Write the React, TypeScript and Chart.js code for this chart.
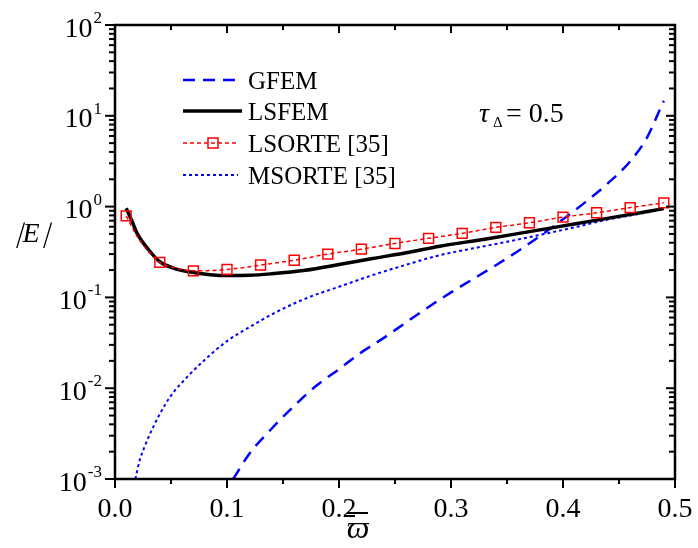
import React, { useEffect, useRef } from 'react';
import { Chart, registerables } from 'chart.js';

Chart.register(...registerables);

// ---- data ----
const gfemX = [0.1055, 0.12, 0.14, 0.16, 0.18, 0.2, 0.22, 0.24, 0.26, 0.28, 0.3, 0.32, 0.34, 0.36, 0.38, 0.4, 0.42, 0.44, 0.46, 0.475, 0.488, 0.49];
const gfemY = [0.001, 0.0019, 0.0036, 0.0064, 0.0107, 0.0162, 0.0248, 0.0358, 0.0531, 0.0785, 0.1135, 0.16, 0.226, 0.324, 0.479, 0.724, 1.12, 1.8, 3.16, 5.76, 12.9, 14.6];

const lsfemX = [0.01, 0.015, 0.02, 0.03, 0.04, 0.055, 0.07, 0.085, 0.1, 0.12, 0.14, 0.17, 0.2, 0.23, 0.26, 0.29, 0.33, 0.37, 0.41, 0.45, 0.49];
const lsfemY = [0.96, 0.7, 0.5, 0.335, 0.247, 0.205, 0.188, 0.178, 0.174, 0.175, 0.182, 0.199, 0.23, 0.268, 0.31, 0.366, 0.437, 0.53, 0.643, 0.78, 0.95];

const lsorteX = [0.01, 0.02, 0.03, 0.04, 0.055, 0.07, 0.1, 0.13, 0.16, 0.19, 0.22, 0.25, 0.28, 0.31, 0.34, 0.37, 0.4, 0.43, 0.46, 0.49];
const lsorteY = [0.79, 0.465, 0.318, 0.243, 0.209, 0.196, 0.203, 0.227, 0.257, 0.3, 0.34, 0.393, 0.447, 0.507, 0.59, 0.663, 0.765, 0.855, 0.975, 1.1];
const lsorteMarkerX = [0.01, 0.04, 0.07, 0.1, 0.13, 0.16, 0.19, 0.22, 0.25, 0.28, 0.31, 0.34, 0.37, 0.4, 0.43, 0.46, 0.49];

const msorteX = [0.0182, 0.022, 0.026, 0.03, 0.04, 0.05, 0.066, 0.08, 0.1, 0.12, 0.14, 0.17, 0.2, 0.23, 0.26, 0.29, 0.32, 0.35, 0.38, 0.41, 0.44, 0.47, 0.49];
const msorteY = [0.001, 0.0016, 0.0022, 0.0029, 0.0052, 0.0083, 0.0139, 0.0205, 0.033, 0.047, 0.065, 0.097, 0.131, 0.176, 0.229, 0.292, 0.347, 0.41, 0.49, 0.59, 0.72, 0.84, 0.95];

const seriesNames = ['GFEM', 'LSFEM', 'LSORTE [35]', 'MSORTE [35]'];
const xTickValues = [0, 0.1, 0.2, 0.3, 0.4, 0.5];
const xTickLabels = ['0.0', '0.1', '0.2', '0.3', '0.4', '0.5'];
const xMinorValues = [0.05, 0.15, 0.25, 0.35, 0.45];
const yExponents = [-3, -2, -1, 0, 1, 2];

const SERIF = '"Liberation Serif", "Times New Roman", "DejaVu Serif", serif';
const BLUE = '#0000ff';
const RED = '#ff0000';

const zip = (xs: number[], ys: number[]) => xs.map((x, i) => ({ x, y: ys[i] }));

const decorPlugin = {
  id: 'decor',
  afterDraw(chart: any) {
    const ctx: CanvasRenderingContext2D = chart.ctx;
    const xs = chart.scales.x;
    const ys = chart.scales.y;
    const { left, right, top, bottom } = chart.chartArea;
    ctx.save();
    ctx.strokeStyle = '#000';
    ctx.fillStyle = '#000';
    ctx.lineCap = 'butt';

    // frame
    ctx.lineWidth = 2.5;
    ctx.strokeRect(left, top, right - left, bottom - top);

    ctx.lineWidth = 2;
    const vline = (x: number, y0: number, y1: number) => {
      ctx.beginPath();
      ctx.moveTo(x, y0);
      ctx.lineTo(x, y1);
      ctx.stroke();
    };
    const hline = (y: number, x0: number, x1: number) => {
      ctx.beginPath();
      ctx.moveTo(x0, y);
      ctx.lineTo(x1, y);
      ctx.stroke();
    };
    // x ticks
    xTickValues.forEach((v) => {
      const px = xs.getPixelForValue(v);
      vline(px, bottom, bottom + 9);
      vline(px, top, top + 8);
    });
    xMinorValues.forEach((v) => {
      const px = xs.getPixelForValue(v);
      vline(px, bottom, bottom + 5);
      vline(px, top, top + 5);
    });
    // y ticks
    yExponents.forEach((e) => {
      const py = ys.getPixelForValue(Math.pow(10, e));
      hline(py, left - 10, left);
      hline(py, right - 9, right);
      if (e < 2) {
        for (let m = 2; m <= 9; m++) {
          const pm = ys.getPixelForValue(m * Math.pow(10, e));
          hline(pm, left - 6, left);
          hline(pm, right - 6, right);
        }
      }
    });

    // x tick labels
    ctx.font = `28px ${SERIF}`;
    ctx.textAlign = 'center';
    ctx.textBaseline = 'alphabetic';
    xTickValues.forEach((v, i) => {
      ctx.fillText(xTickLabels[i], xs.getPixelForValue(v), 517);
    });

    // y tick labels 10^n
    yExponents.forEach((e) => {
      const py = ys.getPixelForValue(Math.pow(10, e));
      const exp = String(e);
      ctx.font = `17px ${SERIF}`;
      const ew = ctx.measureText(exp).width;
      ctx.font = `28px ${SERIF}`;
      const bw = ctx.measureText('10').width;
      const xr = 102;
      const x0 = xr - ew - bw - 1;
      ctx.textAlign = 'left';
      ctx.fillText('10', x0, py + 11.5);
      ctx.font = `17px ${SERIF}`;
      ctx.fillText(exp, x0 + bw + 1, py - 2);
    });

    // y axis title |E| (slanted bars as in the original)
    ctx.textAlign = 'center';
    ctx.font = `italic 28px ${SERIF}`;
    const drawSlanted = (s: string, x: number, y: number) => {
      ctx.save();
      ctx.translate(x, y);
      ctx.transform(1, 0, -0.3, 1, 0, 0);
      ctx.fillText(s, 0, 0);
      ctx.restore();
    };
    drawSlanted('|', 18, 242);
    ctx.fillText('E', 31, 242);
    drawSlanted('|', 45, 242);

    // x axis title
    ctx.font = `italic 32px ${SERIF}`;
    ctx.fillText('ϖ', 358, 538);
    ctx.lineWidth = 2;
    hline(513, 347, 368);

    // annotation
    ctx.textAlign = 'left';
    ctx.font = `italic 28px ${SERIF}`;
    ctx.fillText('τ', 479, 122);
    ctx.font = `15px ${SERIF}`;
    ctx.fillText('Δ', 493, 127);
    ctx.font = `28px ${SERIF}`;
    ctx.fillText('= 0.5', 506, 122);

    // legend
    const rows = [80, 111, 143, 175];
    const lx0 = 183;
    const tx = 248;
    ctx.strokeStyle = BLUE;
    ctx.lineWidth = 2.5;
    ctx.setLineDash([12, 8]);
    hline(rows[0], lx0, 236);
    ctx.setLineDash([]);
    ctx.strokeStyle = '#000';
    ctx.lineWidth = 3.5;
    hline(rows[1], lx0, 242);
    ctx.strokeStyle = RED;
    ctx.lineWidth = 1.5;
    ctx.setLineDash([4, 3]);
    hline(rows[2], lx0, 238);
    ctx.setLineDash([]);
    ctx.strokeRect(213 - 5, rows[2] - 5, 10, 10);
    ctx.strokeStyle = BLUE;
    ctx.lineWidth = 2;
    ctx.setLineDash([3, 3]);
    hline(rows[3], lx0, 238);
    ctx.setLineDash([]);

    ctx.fillStyle = '#000';
    ctx.font = `25px ${SERIF}`;
    ctx.textAlign = 'left';
    seriesNames.forEach((n, i) => {
      ctx.fillText(n, tx, rows[i] + 8.5);
    });

    ctx.restore();
  },
};

export default function App() {
  const ref = useRef<HTMLCanvasElement>(null);
  useEffect(() => {
    const isMarker = (x: number) => lsorteMarkerX.some((m) => Math.abs(m - x) < 1e-9);
    const chart = new Chart(ref.current as HTMLCanvasElement, {
      type: 'line',
      data: {
        datasets: [
          {
            label: seriesNames[2],
            data: zip(lsorteX, lsorteY),
            borderColor: RED,
            borderWidth: 1.5,
            borderDash: [4, 3],
            cubicInterpolationMode: 'monotone',
            pointStyle: 'rect',
            pointRadius: (c: any) => (isMarker(lsorteX[c.dataIndex]) ? 7 : 0),
            pointBorderColor: RED,
            pointBackgroundColor: 'rgba(0,0,0,0)',
            pointBorderWidth: 1.5,
            fill: false,
          },
          {
            label: seriesNames[1],
            data: zip(lsfemX, lsfemY),
            borderColor: '#000',
            borderWidth: 3.5,
            cubicInterpolationMode: 'monotone',
            pointRadius: 0,
            fill: false,
          },
          {
            label: seriesNames[3],
            data: zip(msorteX, msorteY),
            borderColor: BLUE,
            borderWidth: 2,
            borderDash: [3, 3],
            cubicInterpolationMode: 'monotone',
            pointRadius: 0,
            fill: false,
          },
          {
            label: seriesNames[0],
            data: zip(gfemX, gfemY),
            borderColor: BLUE,
            borderWidth: 2.5,
            borderDash: [12, 8],
            cubicInterpolationMode: 'monotone',
            pointRadius: 0,
            fill: false,
          },
        ] as any,
      },
      options: {
        animation: false,
        responsive: false,
        devicePixelRatio: 1,
        events: [],
        layout: { padding: { left: 115, right: 23, top: 25, bottom: 69 } },
        plugins: { legend: { display: false }, tooltip: { enabled: false } },
        scales: {
          x: { type: 'linear', min: 0, max: 0.5, display: false },
          y: { type: 'logarithmic', min: 0.001, max: 100, display: false },
        },
      } as any,
      plugins: [decorPlugin],
    });
    return () => chart.destroy();
  }, []);
  return (
    <div style={{ position: 'absolute', left: 0, top: 0, width: 698, height: 548, background: '#fff' }}>
      <canvas ref={ref} width={698} height={548} style={{ display: 'block', width: 698, height: 548 }} />
    </div>
  );
}
